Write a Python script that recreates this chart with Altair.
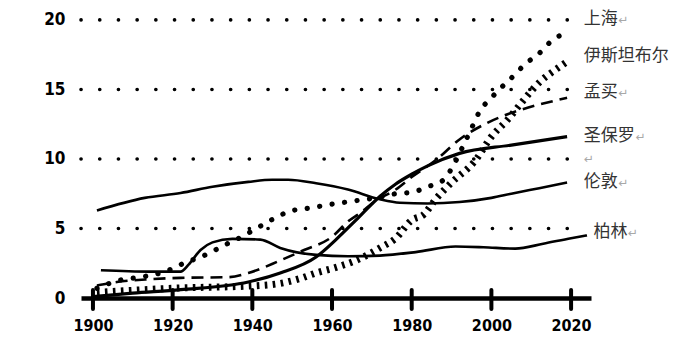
import altair as alt
import pandas as pd

# ---- data (population, millions) ----
london_years = [1901, 1913, 1922, 1930, 1939, 1945, 1949, 1956, 1964, 1972, 1977, 1984, 1992, 2000, 2005, 2012, 2019]
london_vals = [6.3, 7.2, 7.55, 8.0, 8.35, 8.5, 8.5, 8.25, 7.8, 7.1, 6.85, 6.8, 6.9, 7.2, 7.5, 7.9, 8.3]

berlin_years = [1902, 1914, 1922, 1924, 1927, 1930, 1935, 1942, 1947, 1956, 1964, 1972, 1981, 1991, 1998, 2006, 2013, 2020, 2024]
berlin_vals = [2.0, 1.9, 1.9, 2.4, 3.45, 4.0, 4.25, 4.2, 3.6, 3.1, 3.0, 3.05, 3.3, 3.7, 3.65, 3.55, 3.9, 4.3, 4.5]

saopaulo_years = [1900, 1910, 1922, 1939, 1947, 1956, 1961, 1966, 1972, 1976, 1980, 1984, 1992, 2005, 2019]
saopaulo_vals = [0.1, 0.35, 0.6, 1.15, 1.8, 2.95, 4.2, 5.6, 7.3, 8.2, 8.9, 9.5, 10.4, 11.0, 11.6]

mumbai_years = [1901, 1906, 1914, 1922, 1934, 1939, 1947, 1953, 1960, 1964, 1967, 1971, 1976, 1980, 1986, 1992, 1999, 2007, 2016, 2019]
mumbai_vals = [0.9, 1.15, 1.35, 1.45, 1.5, 1.8, 2.7, 3.45, 4.4, 5.5, 6.1, 7.0, 7.8, 8.7, 9.9, 11.4, 12.6, 13.5, 14.2, 14.4]

shanghai_years = [1901, 1907, 1912, 1919, 1922, 1929, 1933, 1938, 1941, 1946, 1949, 1955, 1960, 1966, 1971, 1976, 1980, 1984, 1988, 1990, 1993, 1995, 1997, 2000, 2002, 2006, 2008, 2012, 2016, 2019]
shanghai_vals = [0.7, 1.3, 1.5, 2.0, 2.4, 3.2, 3.8, 4.5, 5.0, 5.8, 6.2, 6.5, 6.75, 7.0, 7.2, 7.5, 7.6, 8.0, 8.5, 9.3, 11.0, 12.2, 13.4, 14.4, 15.0, 16.1, 16.7, 17.6, 18.7, 19.0]

istanbul_years = [1901, 1920, 1942, 1947, 1952, 1956, 1961, 1966, 1972, 1976, 1980, 1983, 1986, 1990, 1996, 2000, 2004, 2008, 2012, 2017, 2019]
istanbul_vals = [0.4, 0.7, 0.9, 1.05, 1.4, 1.8, 2.2, 2.7, 3.6, 4.3, 5.6, 6.0, 7.1, 8.3, 9.9, 11.6, 12.8, 14.2, 15.5, 16.6, 17.0]

label_texts = ["上海", "伊斯坦布尔", "孟买", "圣保罗", "", "伦敦", "柏林"]
label_years = [2023.2, 2023.2, 2023.2, 2023.2, 2023.2, 2023.2, 2025.6]
label_vals = [20.05, 17.4, 14.8, 11.65, 10.1, 8.35, 4.75]
label_arrow = ["↵", "", "↵", "↵", "↵", "↵", "↵"]

grid_vals = [5, 10, 15, 20]
tick_years = [1900, 1920, 1940, 1960, 1980, 2000, 2020]

series = {
    "伦敦": (london_years, london_vals),
    "柏林": (berlin_years, berlin_vals),
    "圣保罗": (saopaulo_years, saopaulo_vals),
    "孟买": (mumbai_years, mumbai_vals),
    "上海": (shanghai_years, shanghai_vals),
    "伊斯坦布尔": (istanbul_years, istanbul_vals),
}
rows = []
for city, (ys, vs) in series.items():
    for y, v in zip(ys, vs):
        rows.append({"city": city, "year": y, "value": v})
df = pd.DataFrame(rows)

lab = pd.DataFrame({"text": label_texts, "year": label_years, "value": label_vals, "arrow": label_arrow})
lab["n"] = lab["text"].str.len()
lab["arrow_year"] = lab["year"] + lab["n"] * 17.2 / 3.98

NUMFONT = "Liberation Sans Narrow, DejaVu Sans Condensed, sans-serif"
CJK = "Noto Sans CJK SC"

xs = alt.Scale(domain=[1897, 2025], nice=False)
ys = alt.Scale(domain=[0, 21], nice=False)

X = alt.X("year:Q", scale=xs, axis=alt.Axis(
    values=tick_years, format="d", grid=False, ticks=False, tickSize=0,
    domain=True, domainColor="black", domainWidth=4.5,
    labelFont=NUMFONT, labelFontWeight="bold", labelFontSize=16, labelColor="black",
    labelPadding=19, title=None))
Y = alt.Y("value:Q", scale=ys, axis=alt.Axis(
    values=[0, 5, 10, 15, 20], grid=False, ticks=False, tickSize=0, domain=False,
    labelFont=NUMFONT, labelFontWeight="bold", labelFontSize=17, labelColor="black",
    labelPadding=16, title=None))

grid = alt.Chart(pd.DataFrame({"value": grid_vals})).mark_rule(
    strokeDash=[0.1, 18.6], strokeCap="round", strokeWidth=3.6, color="black"
).encode(y=alt.Y("value:Q", scale=ys), x=alt.value(0), x2=alt.value(497))

ticks = alt.Chart(pd.DataFrame({"year": tick_years})).mark_rule(
    strokeWidth=4, color="black", strokeCap="round"
).encode(x=alt.X("year:Q", scale=xs), y=alt.value(284), y2=alt.value(303))

def line(city, **kw):
    return alt.Chart(df).transform_filter(alt.datum.city == city).mark_line(
        interpolate="monotone", color="black", **kw
    ).encode(x=X, y=Y)

l_london = line("伦敦", strokeWidth=2.6)
l_berlin = line("柏林", strokeWidth=2.6)
l_sp = line("圣保罗", strokeWidth=3.2)
l_mumbai = line("孟买", strokeWidth=2.6, strokeDash=[12, 7])
l_sh = line("上海", strokeWidth=5.2, strokeDash=[0.1, 12.5], strokeCap="round")
l_ist = line("伊斯坦布尔", strokeWidth=7, strokeDash=[2.6, 5.4])

labels = alt.Chart(lab).mark_text(
    align="left", baseline="middle", font=CJK, fontSize=17, color="#333333"
).encode(x=alt.X("year:Q", scale=xs), y=alt.Y("value:Q", scale=ys), text="text:N")

arrows = alt.Chart(lab).mark_text(
    align="left", baseline="middle", font="DejaVu Sans", fontSize=12, color="#a8a8a8", dy=1
).encode(x=alt.X("arrow_year:Q", scale=xs), y=alt.Y("value:Q", scale=ys), text="arrow:N")

chart = alt.layer(
    grid, ticks, l_london, l_berlin, l_sp, l_mumbai, l_sh, l_ist, labels, arrows
).properties(
    width=510, height=292,
    padding={"left": 81, "top": 6, "right": 85, "bottom": 54},
    autosize=alt.AutoSizeParams(type="none"),
    background="white",
).configure_view(stroke=None)

chart.save("out.html", embed_options={"renderer": "svg", "actions": False})
